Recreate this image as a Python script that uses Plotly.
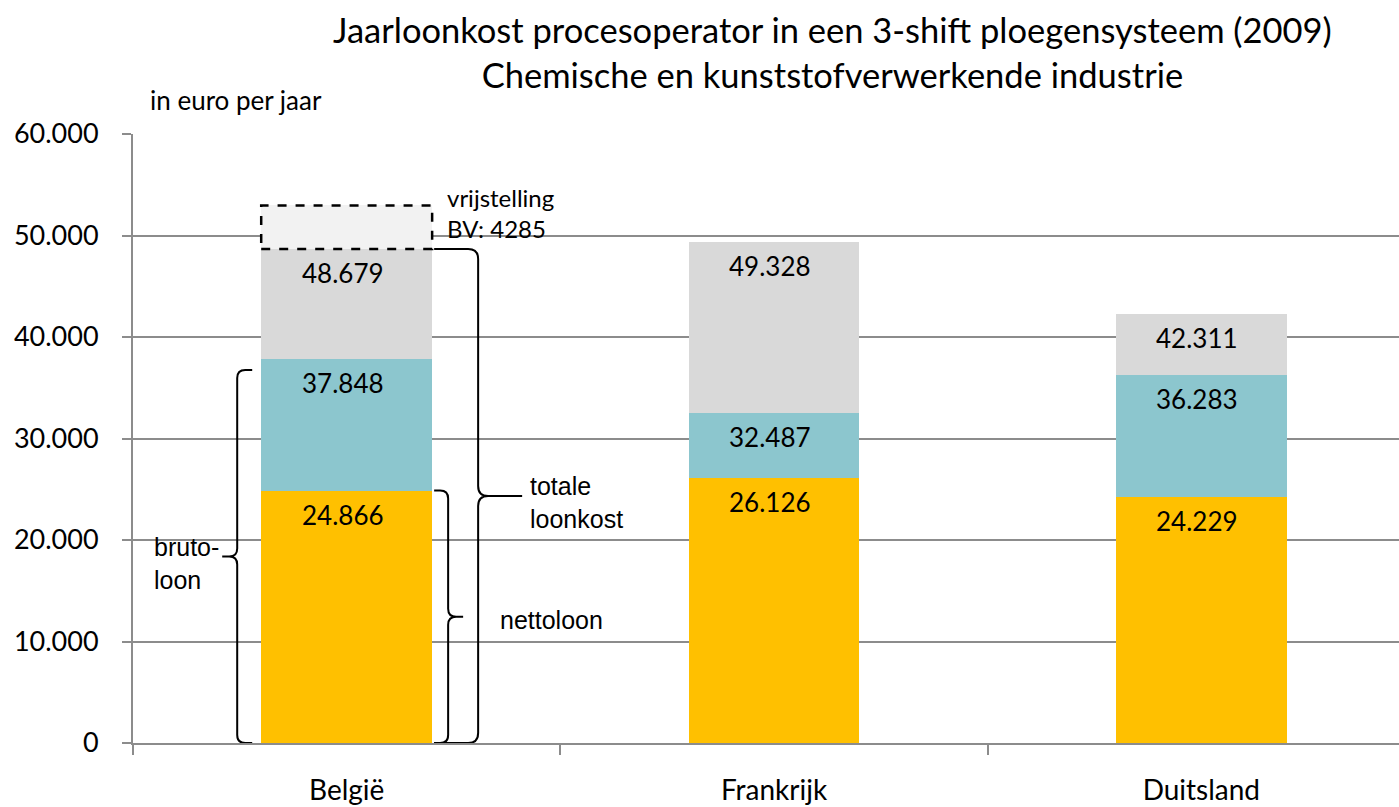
import plotly.graph_objects as go

countries = ["België", "Frankrijk", "Duitsland"]
netto = [24866, 26126, 24229]          # nettoloon (cumulative top of yellow)
bruto = [37848, 32487, 36283]          # brutoloon (cumulative top of teal)
totaal = [48679, 49328, 42311]         # totale loonkost (cumulative top of grey)
vrijstelling = [4285, None, None]      # vrijstelling BV (België only)

seg_yellow = netto
seg_teal = [b - n for b, n in zip(bruto, netto)]
seg_grey = [t - b for t, b in zip(totaal, bruto)]

YELLOW = "#FFC000"
TEAL = "#8CC6CE"
GREY = "#D9D9D9"
LIGHT = "#F2F2F2"
GRID = "#8C8C8C"
CAL = "Lato, 'Open Sans', sans-serif"
ARI = "'Liberation Sans', Arial, sans-serif"
BW = 0.4

fig = go.Figure()
for vals, col in [(seg_yellow, YELLOW), (seg_teal, TEAL), (seg_grey, GREY), (vrijstelling, LIGHT)]:
    fig.add_trace(go.Bar(x=countries, y=vals, marker=dict(color=col, line=dict(width=0)),
                         width=BW, hoverinfo="skip", showlegend=False))

ann = []
# value labels
for i, c in enumerate(countries):
    for v in (netto[i], bruto[i], totaal[i]):
        ann.append(dict(x=i, y=v, xref="x", yref="y", text=f"{v:,}".replace(",", "."),
                        showarrow=False, yanchor="middle", yshift=-24, xshift=-4,
                        font=dict(family=CAL, size=26, color="black")))

shapes = []
# dashed box for vrijstelling
shapes.append(dict(type="rect", xref="x", yref="y", x0=-BW / 2, x1=BW / 2,
                   y0=totaal[0], y1=totaal[0] + vrijstelling[0],
                   line=dict(color="black", width=2.5, dash="dash"), fillcolor="rgba(0,0,0,0)"))

PXD = 60000 / 609.0  # data units per pixel


def brace(anchor, y0, y1, xs, xv, xt, r):
    d = 1 if xt > xv else -1
    c = r * PXD
    ym = (y0 + y1) / 2
    p = (f"M{xs},{y1} L{xv - d * r},{y1} Q{xv},{y1} {xv},{y1 - c} L{xv},{ym + c} "
         f"Q{xv},{ym} {xv + d * r},{ym} L{xt},{ym} "
         f"M{xv + d * r},{ym} Q{xv},{ym} {xv},{ym - c} L{xv},{y0 + c} "
         f"Q{xv},{y0} {xv - d * r},{y0} L{xs},{y0}")
    return dict(type="path", xref="x", yref="y", xsizemode="pixel", xanchor=anchor,
                path=p, line=dict(color="black", width=2))


shapes.append(brace(-BW / 2, 0, 36750, -9, -24, -39, 8))      # brutoloon
shapes.append(brace(BW / 2, 0, netto[0], 2, 16, 31, 8))        # nettoloon
shapes.append(brace(BW / 2, 0, totaal[0], 2, 46, 90, 10))      # totale loonkost

ann += [
    dict(x=BW / 2, y=totaal[0] / 2, xref="x", yref="y", xshift=96, yshift=-7,
         text="totale<br>loonkost", showarrow=False, xanchor="left", align="left",
         font=dict(family=ARI, size=25, color="black")),
    dict(x=BW / 2, y=netto[0] / 2, xref="x", yref="y", xshift=66, yshift=-3,
         text="nettoloon", showarrow=False, xanchor="left", align="left",
         font=dict(family=ARI, size=25, color="black")),
    dict(x=-BW / 2, y=36750 / 2, xref="x", yref="y", xshift=-109, yshift=-7,
         text="bruto-<br>loon", showarrow=False, xanchor="left", align="left",
         font=dict(family=ARI, size=25, color="black")),
    dict(x=BW / 2, y=totaal[0] + vrijstelling[0] / 2, xref="x", yref="y", xshift=13, yshift=14,
         text="vrijstelling<br>BV: 4285", showarrow=False, xanchor="left", align="left",
         font=dict(family=CAL, size=24, color="black")),
    dict(x=(832 - 133) / 1266, y=1 + (134 - 52) / 609, xref="paper", yref="paper",
         text="Jaarloonkost procesoperator in een 3-shift ploegensysteem (2009)<br>Chemische en kunststofverwerkende industrie",
         showarrow=False, xanchor="center", yanchor="middle", align="center",
         font=dict(family=CAL, size=34.5, color="black")),
    dict(x=(148 - 133) / 1266, y=1 + (134 - 100) / 609, xref="paper", yref="paper",
         text="in euro per jaar", showarrow=False, xanchor="left", yanchor="middle",
         font=dict(family=CAL, size=26, color="black")),
]

fig.update_layout(
    width=1399, height=807,
    margin=dict(l=133, r=0, t=134, b=64, autoexpand=False),
    plot_bgcolor="white", paper_bgcolor="white",
    barmode="stack", bargap=0.6,
    shapes=shapes, annotations=ann,
    xaxis=dict(type="category", range=[-0.5, 2.4625], tickson="boundaries", automargin=False,
               ticks="outside", ticklen=10, tickcolor=GRID, tickwidth=1.5,
               showline=True, linecolor=GRID, linewidth=2, showgrid=False,
               tickfont=dict(family=CAL, size=28, color="black"), ticklabelstandoff=21),
    yaxis=dict(range=[0, 60000], tickvals=[0, 10000, 20000, 30000, 40000, 50000, 60000],
               ticktext=["0", "10.000", "20.000", "30.000", "40.000", "50.000", "60.000"],
               automargin=False,
               ticks="outside", ticklen=9, tickcolor=GRID, tickwidth=1.5,
               showline=True, linecolor=GRID, linewidth=2,
               showgrid=True, gridcolor=GRID, gridwidth=1.5, zeroline=False,
               tickfont=dict(family=CAL, size=27, color="black"), ticklabelstandoff=18),
)

fig.write_html("out.html", config={"displayModeBar": False},
               post_script="document.body.style.margin='0';")
